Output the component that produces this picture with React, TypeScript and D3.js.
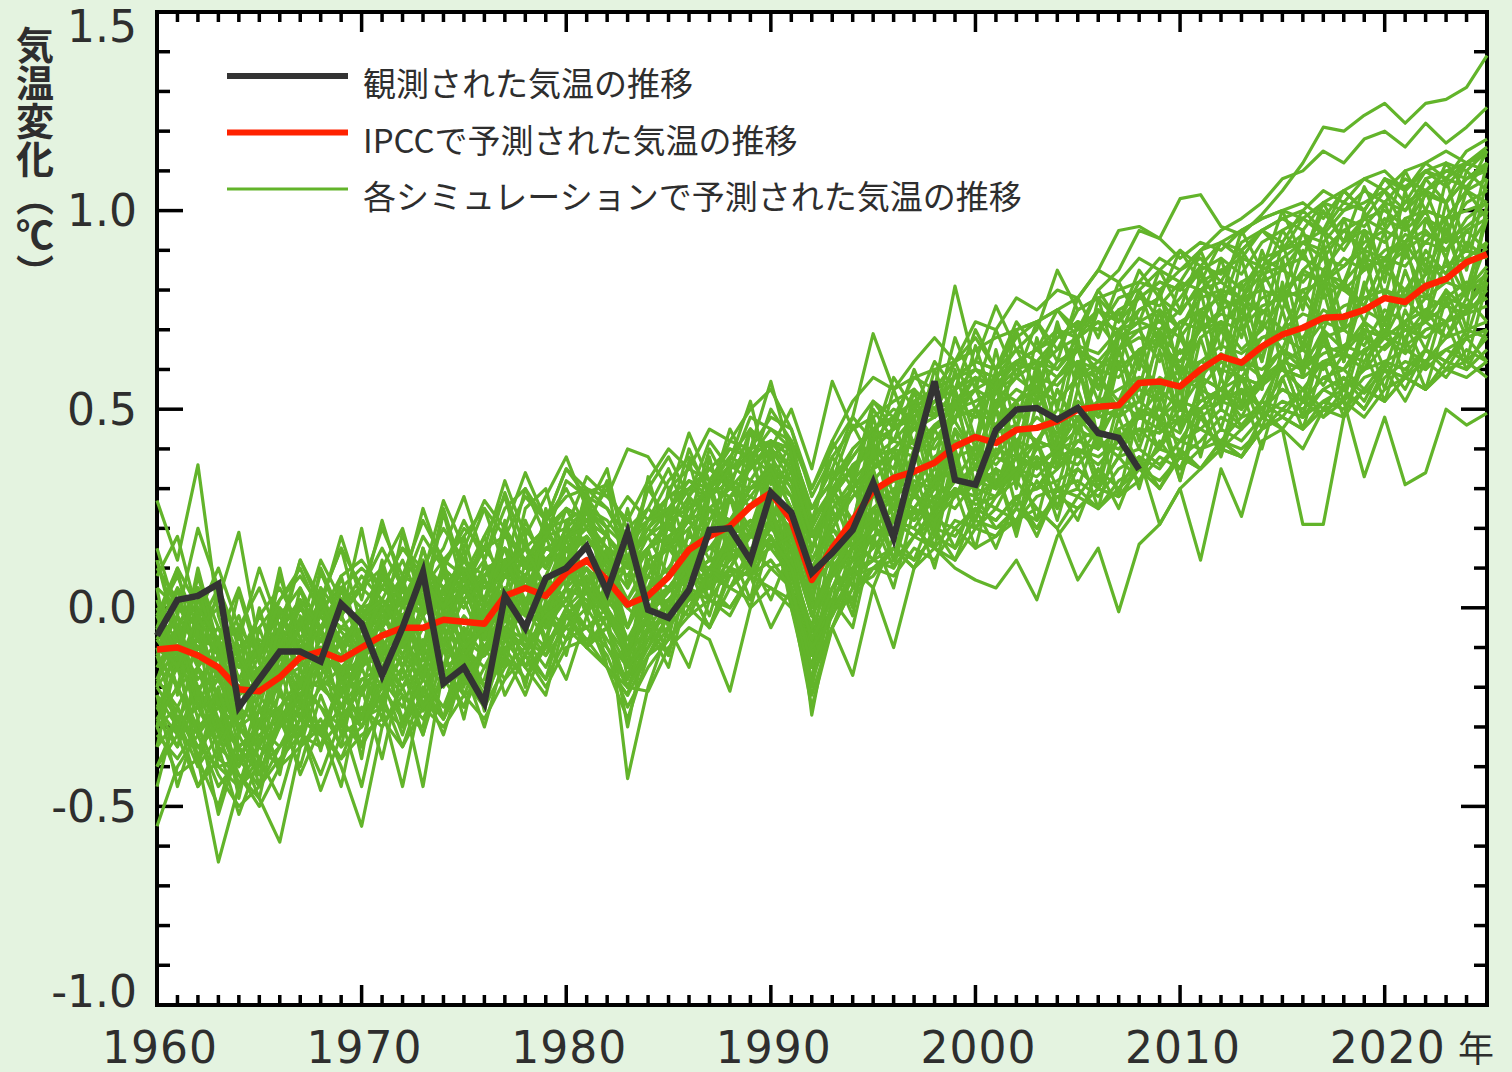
import React from "react";
import * as d3 from "d3";

// Global mean surface temperature change (°C), annual values 1960–2025
const firstYear = 1960;
const lastYear = 2025;

// Observed temperature, 1960–2008
const observed = [
  -0.07, 0.02, 0.03, 0.06, -0.25, -0.18, -0.11, -0.11, -0.135, 0.01, -0.04,
  -0.17, -0.05, 0.09, -0.19, -0.15, -0.24, 0.03, -0.05, 0.075, 0.10, 0.155,
  0.04, 0.19, -0.005, -0.025, 0.045, 0.196, 0.20, 0.12, 0.29, 0.24, 0.088,
  0.138, 0.196, 0.315, 0.176, 0.377, 0.57, 0.322, 0.31, 0.448, 0.499, 0.503, 0.474, 0.503, 0.44, 0.428, 0.348,
];

// IPCC multi-model mean, 1960–2025
const ipccMean = [
  -0.105, -0.10, -0.12, -0.15, -0.205, -0.21, -0.175, -0.125, -0.11, -0.13, -0.10,
  -0.07, -0.05, -0.05, -0.03, -0.035, -0.04, 0.03, 0.05, 0.03, 0.088, 0.12,
  0.07, 0.008, 0.03, 0.078, 0.146, 0.18, 0.205, 0.255, 0.29, 0.22, 0.07,
  0.15, 0.22, 0.295, 0.327, 0.343, 0.365, 0.406, 0.43, 0.415, 0.448, 0.453,
  0.47, 0.499, 0.506, 0.51, 0.566, 0.57, 0.557, 0.60, 0.633, 0.617, 0.658,
  0.688, 0.705, 0.73, 0.733, 0.75, 0.78, 0.77, 0.81, 0.828, 0.87, 0.89,
];

// Individual simulation runs, 1960–2025
const sim01 = [0.27,0.12,0.36,-0.02,-0.18,-0.25,-0.08,-0.15,0.02,-0.06,-0.12, -0.02,-0.10,0.06,0.01,0.10,-0.08,0.12,0.08,-0.02,0.05,0.18, 0.10,-0.05,0.12,0.15,0.08,0.22,0.28,0.20,0.35,0.25,0.02, 0.20,0.15,0.36,0.38,0.30,0.42,0.47,0.38,0.52,0.48,0.55, 0.42,0.60,0.58,0.52,0.64,0.70,0.58,0.68,0.72,0.65,0.70, 0.78,0.66,0.85,0.80,0.76,0.88,0.92,0.84,0.95,0.90,0.98];
const sim02 = [-0.30,-0.42,-0.38,-0.64,-0.45,-0.38,-0.30,-0.25,-0.32,-0.20,-0.28, -0.22,-0.15,-0.26,-0.18,-0.12,-0.22,-0.10,-0.08,-0.15,-0.02,0.04, -0.10,-0.18,-0.06,-0.02,0.05,0.02,0.10,0.08,0.16,0.12,-0.06, 0.02,0.10,0.12,0.22,0.18,0.24,0.30,0.26,0.28,0.35,0.30, 0.38,0.36,0.42,0.40,0.45,0.44,0.50,0.48,0.52,0.55,0.50, 0.58,0.62,0.56,0.64,0.60,0.66,0.70,0.68,0.72,0.74,0.76];
const sim03 = [-0.20,-0.28,-0.35,-0.30,-0.42,-0.48,-0.59,-0.35,-0.28,-0.40,-0.55, -0.30,-0.20,-0.32,-0.15,-0.25,-0.10,-0.18,-0.05,-0.12,0.00,-0.05, -0.02,-0.12,0.04,0.00,0.10,0.06,0.15,0.12,0.22,0.10,-0.08, 0.05,0.16,0.20,0.25,0.22,0.30,0.28,0.36,0.32,0.38,0.35, 0.40,0.45,0.42,0.38,0.50,0.47,0.44,0.55,0.52,0.58,0.56, 0.62,0.60,0.66,0.64,0.70,0.68,0.72,0.75,0.72,0.80,0.82];
const sim04 = [0.05,0.00,-0.05,0.02,0.19,-0.10,-0.02,0.05,-0.05,0.00,0.08, 0.02,0.12,0.00,0.10,0.05,0.15,0.08,0.20,0.12,0.18,0.25, 0.22,0.15,0.18,0.25,0.30,0.28,0.35,0.38,0.42,0.40,0.22, 0.30,0.35,0.42,0.45,0.50,0.48,0.55,0.58,0.56,0.62,0.60, 0.65,0.68,0.72,0.70,0.75,0.78,0.74,0.82,0.85,0.80,0.88, 0.90,0.94,0.92,0.98,0.96,1.02,1.00,1.05,1.08,1.06,1.12];
const sim05 = [-0.15,-0.05,-0.20,-0.18,-0.30,-0.26,-0.20,-0.08,-0.15,-0.22,-0.12, -0.10,-0.02,-0.12,-0.08,0.02,-0.10,0.00,0.08,-0.05,0.05,0.10, 0.00,-0.43,-0.20,-0.05,0.08,0.12,0.10,0.20,0.24,0.15,-0.27, 0.00,0.15,0.25,0.28,0.32,0.30,0.38,0.40,0.36,0.42,0.48, 0.44,0.52,0.48,0.50,0.58,0.55,0.60,0.58,0.64,0.60,0.68, 0.70,0.68,0.75,0.72,0.78,0.80,0.76,0.84,0.86,0.90,0.88];
const sim06 = [-0.05,-0.12,-0.08,-0.10,-0.15,-0.12,-0.05,-0.10,0.00,-0.08,-0.02, 0.05,0.00,0.08,0.02,0.10,0.05,0.12,0.15,0.10,0.20,0.25, 0.18,0.10,0.15,0.22,0.30,0.35,0.32,0.40,0.57,0.38,0.20, 0.30,0.38,0.45,0.50,0.48,0.55,0.81,0.60,0.58,0.62,0.65, 0.68,0.70,0.75,0.72,0.78,0.82,0.80,0.85,0.88,0.84,0.92, 0.95,0.98,0.94,1.00,1.02,1.05,1.00,1.08,1.10,1.12,1.15];
const sim07 = [-0.08,-0.15,-0.05,-0.12,-0.22,-0.18,-0.10,-0.05,-0.02,-0.10,0.00, 0.02,-0.05,0.05,0.08,0.02,0.10,0.12,0.08,0.18,0.15,0.20, 0.12,0.08,0.18,0.22,0.25,0.30,0.36,0.32,0.40,0.35,0.15, 0.28,0.35,0.42,0.48,0.52,0.55,0.58,0.62,0.60,0.68,0.72, 0.75,0.70,0.80,0.85,0.95,0.93,1.03,1.04,0.96,0.94,0.99, 1.05,1.12,1.21,1.20,1.24,1.27,1.22,1.27,1.28,1.31,1.39];
const sim08 = [-0.12,-0.20,-0.15,-0.22,-0.25,-0.30,-0.18,-0.15,-0.10,-0.18,-0.08, -0.05,-0.12,0.00,-0.05,0.05,0.00,0.08,0.12,0.05,0.15,0.18, 0.10,0.02,0.12,0.15,0.20,0.25,0.22,0.30,0.36,0.28,0.12, 0.20,0.30,0.35,0.40,0.45,0.48,0.52,0.55,0.58,0.62,0.60, 0.68,0.72,0.70,0.78,0.80,0.85,0.82,0.90,0.95,0.98,1.02, 1.08,1.10,1.15,1.12,1.18,1.20,1.16,1.22,1.17,1.21,1.26];
const sim09 = [-0.18,-0.10,-0.22,-0.28,-0.35,-0.30,-0.25,-0.18,-0.20,-0.15,-0.22, -0.12,-0.08,-0.15,-0.05,-0.10,-0.02,0.05,0.00,0.08,0.02,0.12, 0.05,-0.08,0.00,0.05,0.12,0.10,0.18,0.22,0.20,0.25,0.05, 0.12,0.18,0.25,0.30,0.28,0.35,0.32,0.40,0.38,0.45,0.42, 0.48,0.45,0.52,0.50,0.55,0.52,0.58,0.55,0.62,0.58,0.50, 0.45,0.21,0.21,0.48,0.62,0.70,0.68,0.75,0.78,0.82,0.80];
const sim10 = [-0.35,-0.28,-0.40,-0.32,-0.45,-0.40,-0.35,-0.28,-0.32,-0.38,-0.25, -0.30,-0.22,-0.28,-0.18,-0.25,-0.15,-0.10,-0.18,-0.08,-0.05,0.00, -0.08,-0.15,-0.10,0.02,-0.02,0.08,0.05,0.12,0.15,0.08,-0.10, 0.00,0.08,0.12,0.15,0.10,0.20,0.18,0.25,0.22,0.28,0.20, 0.30,0.28,0.35,0.30,0.38,0.21,0.30,0.12,0.35,0.23,0.42, 0.45,0.40,0.50,0.48,0.55,0.52,0.58,0.55,0.62,0.60,0.65];
const sim11 = [-0.22,-0.30,-0.25,-0.35,-0.40,-0.32,-0.28,-0.20,-0.25,-0.30,-0.18, -0.15,-0.20,-0.10,-0.18,-0.08,-0.12,-0.05,0.00,-0.08,0.05,0.02, -0.05,-0.12,-0.02,0.04,0.08,0.12,0.10,0.18,0.22,0.15,-0.02, 0.08,0.15,0.20,0.18,0.25,0.22,0.30,0.28,0.32,0.35,0.30, 0.38,0.40,0.36,0.42,0.45,0.40,0.48,0.45,0.50,0.46,0.52, 0.50,0.55,0.48,0.52,0.33,0.48,0.31,0.34,0.50,0.46,0.49];
const sim12 = [0.12,-0.08,0.05,-0.18,0.04,-0.14,0.10,-0.12,0.09,-0.03,0.20, -0.05,0.19,-0.01,0.24,0.04,0.18,0.03,0.25,0.30,0.11,0.29, 0.31,0.05,0.33,0.15,0.37,0.18,0.37,0.52,0.31,0.42,0.14, 0.32,0.46,0.36,0.55,0.41,0.60,0.47,0.66,0.50,0.70,0.52, 0.72,0.55,0.78,0.60,0.80,0.66,0.82,0.70,0.88,0.72,0.90, 0.78,0.95,0.80,0.98,0.85,1.02,0.88,1.05,0.92,1.10,1.05];
const sim13 = [-0.35,-0.12,-0.40,-0.22,-0.48,-0.25,-0.42,-0.18,-0.36,-0.15,-0.38, -0.08,-0.30,-0.12,-0.28,-0.05,-0.26,-0.02,-0.20,0.02,-0.12,0.08, -0.15,-0.22,0.00,-0.12,0.10,-0.02,0.15,0.02,0.25,0.00,-0.18, 0.10,-0.02,0.25,0.12,0.30,0.15,0.38,0.22,0.35,0.20,0.42, 0.25,0.45,0.30,0.48,0.35,0.52,0.32,0.55,0.40,0.58,0.45, 0.62,0.48,0.68,0.52,0.70,0.55,0.72,0.60,0.78,0.62,0.82];
const sim14 = [-0.02,-0.08,0.02,-0.10,-0.12,-0.18,-0.05,0.00,-0.06,0.02,-0.04, 0.05,0.02,0.10,0.05,0.12,0.08,0.15,0.10,0.18,0.20,0.15, 0.18,0.12,0.20,0.25,0.22,0.30,0.35,0.38,0.34,0.32,0.18, 0.28,0.36,0.40,0.45,0.50,0.55,0.58,0.62,0.76,0.65,0.70, 0.85,0.75,0.78,0.80,0.82,0.88,0.85,0.90,0.92,0.95,0.98, 1.00,0.98,1.02,1.05,1.00,1.08,1.06,1.10,1.12,1.10,1.15];
const sim15 = [-0.30,-0.25,-0.35,-0.40,-0.38,-0.45,-0.35,-0.30,-0.46,-0.32,-0.28, -0.25,-0.45,-0.20,-0.28,-0.15,-0.22,-0.12,-0.18,-0.10,-0.02,-0.08, -0.05,-0.20,-0.08,-0.05,0.02,0.08,0.05,0.10,0.18,0.05,-0.15, 0.05,0.10,0.18,0.22,0.20,0.28,0.25,0.32,0.30,0.35,0.38, 0.35,0.42,0.40,0.45,0.48,0.50,0.46,0.52,0.55,0.50,0.58, 0.60,0.58,0.62,0.60,0.65,0.68,0.64,0.70,0.72,0.75,0.78];
const sim16 = [-0.25,-0.32,-0.20,-0.30,-0.35,-0.42,-0.28,-0.22,-0.18,-0.28,-0.20, -0.15,-0.22,-0.45,-0.15,-0.22,-0.10,-0.05,-0.12,0.00,-0.08,0.05, 0.00,-0.10,-0.02,0.05,0.00,0.10,0.15,0.12,0.20,0.18,-0.02, 0.10,0.12,0.20,0.25,0.22,0.28,0.32,0.30,0.35,0.32,0.40, 0.42,0.38,0.45,0.42,0.50,0.48,0.52,0.50,0.55,0.58,0.56, 0.62,0.65,0.60,0.66,0.70,0.68,0.72,0.75,0.78,0.76,0.82];
const sim17 = [0.10,0.02,-0.05,0.05,-0.10,-0.05,0.02,0.08,0.00,0.05,0.10, 0.05,0.15,0.08,0.27,0.15,0.27,0.20,0.34,0.22,0.28,0.30, 0.25,0.18,0.22,0.28,0.32,0.30,0.38,0.35,0.42,0.38,0.25, 0.32,0.38,0.45,0.42,0.48,0.52,0.50,0.58,0.55,0.60,0.62, 0.60,0.66,0.64,0.70,0.72,0.75,0.70,0.78,0.80,0.78,0.84, 0.86,0.88,0.85,0.92,0.95,0.92,0.98,1.00,0.98,1.05,1.08];
const sim18 = [-0.05,0.05,-0.02,-0.08,-0.05,-0.12,0.00,-0.05,0.05,-0.02,0.05, 0.10,0.02,0.08,0.15,0.28,0.12,0.29,0.15,0.20,0.25,0.22, 0.30,0.20,0.25,0.20,0.28,0.35,0.30,0.36,0.40,0.35,0.18, 0.25,0.32,0.38,0.42,0.40,0.46,0.50,0.48,0.55,0.52,0.58, 0.56,0.62,0.60,0.65,0.68,0.66,0.72,0.70,0.75,0.78,0.74, 0.80,0.84,0.82,0.86,0.90,0.88,0.94,0.92,0.98,1.00,1.02];
const sim19 = [-0.15,-0.08,-0.18,-0.12,-0.20,-0.15,-0.08,-0.12,-0.02,-0.10,-0.05, 0.00,-0.05,0.05,0.00,0.08,0.02,0.12,0.15,0.10,0.20,0.33, 0.28,0.40,0.38,0.30,0.35,0.32,0.40,0.38,0.42,0.40,0.25, 0.32,0.40,0.45,0.48,0.45,0.52,0.50,0.55,0.52,0.58,0.62, 0.58,0.65,0.62,0.68,0.70,0.72,0.68,0.75,0.78,0.75,0.82, 0.85,0.82,0.88,0.86,0.92,0.95,0.92,0.98,0.95,1.02,1.05];
const sim20 = [-0.10,-0.15,-0.05,-0.18,-0.22,-0.12,-0.15,-0.05,-0.08,-0.12,-0.02, -0.05,0.02,-0.02,0.05,0.00,0.08,0.10,0.05,0.15,0.18,0.22, 0.15,0.10,0.20,0.28,0.44,0.32,0.38,0.45,0.40,0.50,0.35, 0.57,0.45,0.48,0.52,0.55,0.50,0.58,0.62,0.60,0.65,0.62, 0.68,0.72,0.70,0.75,0.78,0.76,0.82,0.80,0.85,0.88,0.86, 0.90,0.92,0.95,0.90,0.98,1.00,0.96,1.04,1.02,1.08,1.10];
const sim21 = [-0.28,-0.20,-0.30,-0.25,-0.35,-0.30,-0.22,-0.28,-0.20,-0.25,-0.18, -0.20,-0.12,-0.18,-0.10,-0.15,-0.12,-0.05,-0.08,-0.12,-0.05,-0.10, -0.15,-0.20,-0.21,-0.10,-0.05,-0.08,-0.21,0.00,0.05,0.02,-0.25, -0.05,0.08,0.10,0.15,0.12,0.18,0.15,0.22,0.20,0.25,0.22, 0.28,0.30,0.25,0.32,0.35,0.30,0.38,0.35,0.40,0.38,0.45, 0.48,0.45,0.50,0.52,0.48,0.55,0.58,0.55,0.60,0.62,0.58];
const sim22 = [-0.18,-0.25,-0.15,-0.22,-0.30,-0.35,-0.25,-0.20,-0.15,-0.22,-0.15, -0.10,-0.18,-0.08,-0.15,-0.05,-0.12,0.00,-0.05,-0.10,0.00,0.05, -0.02,-0.08,0.00,0.02,0.08,0.05,0.10,0.08,-0.05,0.05,-0.15, -0.05,-0.17,0.05,-0.10,0.10,0.15,0.12,0.20,0.18,0.22,0.25, 0.20,0.28,0.25,0.30,0.35,0.32,0.38,0.35,0.42,0.40,0.45, 0.50,0.48,0.52,0.55,0.50,0.58,0.62,0.60,0.65,0.68,0.70];
const sim23 = [-0.20,-0.12,-0.25,-0.18,-0.28,-0.22,-0.15,-0.20,-0.10,-0.18,-0.12, -0.08,-0.15,-0.05,-0.10,-0.02,-0.08,0.02,-0.02,0.05,0.08,0.05, 0.02,-0.05,0.05,0.08,0.10,0.15,0.12,0.18,0.20,0.15,0.00, 0.10,0.15,0.18,0.22,0.20,0.15,0.10,0.07,0.05,0.12,0.02, 0.18,0.25,0.30,0.28,0.35,0.40,0.38,0.42,0.48,0.45,0.50, 0.55,0.52,0.58,0.60,0.55,0.62,0.65,0.62,0.68,0.70,0.72];
const sim24 = [-0.12,-0.20,-0.10,-0.15,-0.25,-0.20,-0.12,-0.18,-0.08,-0.15,-0.10, -0.12,-0.05,-0.10,-0.02,-0.08,0.00,0.05,0.02,-0.02,0.08,0.10, 0.05,0.00,0.08,0.05,0.12,0.15,0.20,0.18,0.25,0.20,0.05, 0.12,0.20,0.25,0.22,0.28,0.25,0.32,0.30,0.28,0.32,0.25, 0.20,0.07,0.15,-0.01,0.16,0.21,0.30,0.35,0.40,0.38,0.45, 0.50,0.48,0.55,0.52,0.58,0.60,0.58,0.65,0.62,0.70,0.68];
const sim25 = [-0.02,-0.10,0.00,-0.08,-0.15,-0.10,-0.05,0.02,-0.05,0.00,0.05, 0.00,0.08,0.05,0.12,0.08,0.15,0.18,0.12,0.20,0.22,0.25, 0.20,0.15,0.22,0.28,0.30,0.35,0.40,0.38,0.45,0.42,0.30, 0.40,0.48,0.69,0.55,0.58,0.60,0.62,0.65,0.68,0.70,0.72, 0.75,0.78,0.85,0.95,0.96,0.93,0.88,0.92,0.90,0.95,0.98, 1.00,1.02,0.98,1.05,1.08,1.05,1.10,1.12,1.08,1.15,1.18];
const sim26 = [-0.05,0.10,-0.15,0.05,-0.28,-0.05,-0.20,0.02,-0.18,0.05,-0.12, 0.10,-0.10,0.12,-0.05,0.15,-0.08,0.20,0.00,0.22,0.05,0.28, 0.02,0.18,-0.05,0.25,0.08,0.32,0.15,0.40,0.20,0.38,0.00, 0.30,0.18,0.45,0.28,0.52,0.30,0.55,0.40,0.60,0.38,0.62, 0.45,0.68,0.42,0.70,0.55,0.75,0.50,0.80,0.58,0.82,0.62, 0.88,0.65,0.92,0.70,0.95,0.78,0.98,0.80,1.02,0.85,1.08];
const sim27 = [-0.55,-0.40,-0.32,-0.45,-0.38,-0.30,-0.35,-0.25,-0.30,-0.22,-0.28, -0.18,-0.25,-0.12,-0.20,-0.10,-0.15,-0.05,-0.12,0.00,-0.05,0.05, 0.00,-0.12,-0.05,0.02,0.08,0.05,0.12,0.18,0.15,0.20,0.00, 0.08,0.18,0.22,0.28,0.25,0.32,0.35,0.30,0.38,0.35,0.42, 0.40,0.45,0.50,0.48,0.52,0.58,0.55,0.62,0.60,0.58,0.65, 0.68,0.65,0.72,0.70,0.75,0.72,0.80,0.78,0.82,0.80,0.86];
const sim28 = [0.00,-0.05,0.05,-0.10,-0.18,-0.08,-0.12,0.00,-0.08,-0.02,-0.12, 0.02,-0.02,0.05,-0.05,0.08,0.05,0.12,0.08,0.15,0.12,0.18, 0.12,0.08,0.15,0.18,0.22,0.25,0.22,0.30,0.32,0.28,0.12, 0.22,0.28,0.32,0.38,0.42,0.45,0.48,0.50,0.46,0.52,0.55, 0.52,0.58,0.62,0.60,0.65,0.68,0.64,0.70,0.74,0.72,0.78, 0.80,0.78,0.84,0.82,0.88,0.86,0.90,0.94,0.92,0.96,1.00];
const sim29 = [-0.30,-0.05,-0.25,-0.35,-0.10,-0.40,-0.15,-0.32,-0.05,-0.28,-0.08, -0.25,0.02,-0.18,0.05,-0.20,0.08,-0.12,0.12,-0.10,0.18,-0.02, 0.15,-0.15,0.12,-0.05,0.20,0.05,0.28,0.10,0.35,0.05,-0.10, 0.18,0.05,0.35,0.18,0.40,0.22,0.45,0.28,0.50,0.30,0.52, 0.35,0.55,0.40,0.62,0.42,0.65,0.45,0.68,0.52,0.72,0.55, 0.75,0.58,0.80,0.62,0.82,0.68,0.85,0.72,0.88,0.78,0.92];
const sim30 = [0.08,0.18,-0.02,0.10,-0.05,0.05,-0.08,0.12,0.02,0.15,0.05, 0.20,0.08,0.22,0.12,0.18,0.25,0.10,0.30,0.22,0.35,0.28, 0.25,0.15,0.30,0.38,0.28,0.42,0.35,0.48,0.45,0.40,0.25, 0.35,0.48,0.42,0.58,0.50,0.62,0.55,0.70,0.60,0.72,0.65, 0.75,0.68,0.80,0.72,0.85,0.78,0.90,0.82,0.92,0.88,0.95, 0.92,1.00,0.95,1.05,1.00,1.08,1.02,1.10,1.08,1.12,1.14];
const sim31 = [-0.32,-0.38,-0.30,-0.42,-0.50,-0.45,-0.38,-0.32,-0.35,-0.28,-0.35, -0.25,-0.30,-0.22,-0.28,-0.18,-0.25,-0.15,-0.10,-0.18,-0.08,-0.05, -0.12,-0.25,-0.15,-0.08,-0.02,0.02,0.00,0.08,0.12,0.05,-0.18, -0.05,0.05,0.10,0.12,0.18,0.15,0.22,0.20,0.25,0.22,0.28, 0.30,0.32,0.28,0.35,0.38,0.35,0.42,0.40,0.45,0.42,0.48, 0.52,0.50,0.55,0.58,0.54,0.60,0.58,0.62,0.65,0.62,0.68];
const sim32 = [-0.40,-0.28,-0.45,-0.35,-0.52,-0.38,-0.48,-0.30,-0.42,-0.28,-0.45, -0.22,-0.35,-0.20,-0.32,-0.15,-0.30,-0.12,-0.22,-0.08,-0.18,-0.02, -0.15,-0.28,-0.12,-0.05,-0.15,0.02,-0.02,0.08,0.05,0.00,-0.22, -0.05,0.05,0.08,0.15,0.10,0.20,0.12,0.25,0.15,0.28,0.18, 0.30,0.22,0.35,0.25,0.38,0.30,0.40,0.35,0.42,0.38,0.48, 0.45,0.52,0.48,0.55,0.50,0.60,0.52,0.62,0.58,0.65,0.62];
const sim33 = [-0.08,-0.02,-0.10,-0.05,-0.12,-0.20,-0.10,-0.05,0.00,-0.05,-0.08, 0.00,0.05,-0.02,0.08,0.02,0.10,0.08,0.15,0.12,0.18,0.20, 0.15,0.12,0.20,0.15,0.25,0.28,0.32,0.30,0.35,0.32,0.15, 0.25,0.30,0.38,0.40,0.45,0.42,0.50,0.52,0.55,0.58,0.54, 0.62,0.65,0.60,0.68,0.72,0.70,0.75,0.80,0.78,0.82,0.85, 0.88,0.92,0.90,0.95,0.98,0.95,1.02,1.05,1.02,1.08,1.12];
const sim34 = [-0.20,0.05,-0.15,-0.32,-0.05,-0.35,-0.12,-0.25,0.02,-0.22,-0.05, -0.18,0.08,-0.12,0.10,-0.15,0.12,-0.08,0.18,-0.05,0.22,0.05, 0.15,-0.15,0.15,-0.02,0.28,0.05,0.35,0.12,0.40,0.10,-0.05, 0.25,0.08,0.42,0.22,0.48,0.25,0.55,0.30,0.58,0.32,0.60, 0.38,0.62,0.40,0.65,0.48,0.70,0.45,0.75,0.50,0.78,0.55, 0.82,0.60,0.85,0.62,0.90,0.68,0.92,0.72,0.98,0.78,1.00];
const sim35 = [0.02,-0.15,0.10,-0.10,-0.22,0.00,-0.18,0.05,-0.12,0.08,-0.10, 0.12,-0.05,0.15,-0.02,0.18,0.00,0.22,-0.02,0.25,0.10,0.30, 0.05,0.25,0.02,0.30,0.12,0.38,0.18,0.45,0.25,0.40,0.05, 0.35,0.20,0.48,0.32,0.55,0.35,0.60,0.42,0.65,0.45,0.68, 0.50,0.72,0.55,0.75,0.60,0.80,0.58,0.85,0.65,0.88,0.70, 0.92,0.75,0.95,0.80,1.00,0.82,1.05,0.85,1.08,0.90,1.12];
const sim36 = [-0.12,-0.05,-0.15,-0.08,-0.18,-0.22,-0.12,-0.08,-0.15,-0.05,0.00, -0.05,0.05,0.00,0.08,0.05,0.02,0.15,0.10,0.12,0.18,0.22, 0.18,0.10,0.15,0.22,0.25,0.30,0.28,0.35,0.40,0.32,0.18, 0.28,0.35,0.40,0.45,0.48,0.52,0.55,0.60,0.58,0.62,0.65, 0.70,0.68,0.75,0.72,0.78,0.82,0.80,0.86,0.84,0.90,0.95, 0.98,1.00,1.05,1.02,1.08,1.10,1.05,1.12,1.15,1.12,1.16];
const sim37 = [-0.10,-0.32,-0.05,-0.38,-0.25,-0.45,-0.20,-0.35,-0.10,-0.32,-0.15, -0.28,-0.02,-0.25,-0.05,-0.18,0.00,-0.15,0.08,-0.08,0.12,-0.02, 0.10,-0.18,0.05,-0.08,0.15,0.02,0.22,0.08,0.28,0.02,-0.15, 0.12,0.00,0.30,0.12,0.35,0.18,0.40,0.22,0.45,0.25,0.42, 0.30,0.48,0.32,0.52,0.40,0.55,0.38,0.58,0.45,0.62,0.48, 0.65,0.52,0.70,0.55,0.72,0.60,0.75,0.65,0.80,0.68,0.84];
const sim38 = [0.15,-0.02,0.20,0.05,-0.08,0.10,-0.05,0.12,0.00,0.18,0.02, 0.22,0.05,0.25,0.10,0.20,0.15,0.32,0.18,0.28,0.38,0.25, 0.35,0.12,0.30,0.22,0.40,0.28,0.45,0.35,0.50,0.42,0.20, 0.42,0.32,0.52,0.45,0.60,0.48,0.68,0.55,0.70,0.58,0.72, 0.62,0.78,0.68,0.82,0.72,0.85,0.75,0.90,0.78,0.95,0.85, 1.00,0.88,1.02,0.92,1.06,0.96,1.10,1.00,1.12,1.05,1.15];
const sim39 = [-0.40,-0.32,-0.45,-0.38,-0.42,-0.50,-0.40,-0.35,-0.30,-0.38,-0.32, -0.28,-0.35,-0.25,-0.30,-0.22,-0.28,-0.18,-0.12,-0.20,-0.10,-0.08, -0.15,-0.22,-0.12,-0.08,0.00,-0.05,0.05,0.02,0.10,0.05,-0.12, -0.02,0.08,0.12,0.10,0.18,0.22,0.20,0.25,0.22,0.28,0.30, 0.32,0.35,0.30,0.38,0.40,0.36,0.42,0.45,0.42,0.48,0.50, 0.55,0.52,0.58,0.55,0.60,0.62,0.60,0.65,0.62,0.68,0.70];
const sim40 = [-0.22,-0.45,-0.28,-0.52,-0.35,-0.48,-0.25,-0.42,-0.30,-0.45,-0.20, -0.38,-0.15,-0.32,-0.10,-0.28,-0.05,-0.22,-0.12,-0.18,0.00,-0.10, -0.02,-0.30,-0.05,-0.15,0.05,-0.05,0.10,0.00,0.18,0.05,-0.20, 0.02,-0.05,0.18,0.05,0.25,0.10,0.30,0.15,0.35,0.18,0.38, 0.22,0.40,0.25,0.45,0.30,0.48,0.32,0.50,0.38,0.55,0.40, 0.58,0.45,0.62,0.48,0.65,0.52,0.68,0.55,0.72,0.60,0.70];
const sim41 = [0.05,-0.22,-0.02,-0.30,-0.12,-0.35,-0.05,-0.25,0.05,-0.10,-0.28, -0.05,0.08,-0.18,0.12,-0.15,0.02,0.10,-0.08,0.20,0.12,0.00, 0.20,-0.12,0.05,0.18,0.02,0.28,0.35,0.10,0.42,0.08,0.20, 0.00,0.35,0.15,0.48,0.30,0.20,0.52,0.58,0.30,0.45,0.60, 0.35,0.62,0.40,0.68,0.72,0.45,0.70,0.55,0.78,0.50,0.82, 0.60,0.85,0.90,0.62,0.80,0.95,0.65,0.98,0.88,0.70,1.02];
const sim42 = [-0.30,-0.12,-0.38,-0.20,-0.45,-0.28,-0.40,-0.15,-0.32,-0.18,-0.35, -0.12,-0.28,-0.30,-0.05,-0.22,-0.18,0.00,-0.15,-0.02,0.05,-0.10, 0.08,-0.15,-0.05,-0.12,0.10,0.02,0.18,0.08,0.22,0.05,-0.12, 0.10,0.02,0.22,0.10,0.30,0.18,0.35,0.20,0.28,0.38,0.22, 0.42,0.30,0.45,0.28,0.50,0.40,0.55,0.38,0.58,0.45,0.52, 0.62,0.48,0.70,0.55,0.60,0.72,0.58,0.75,0.68,0.78,0.72];
const sim43 = [-0.02,-0.15,0.08,-0.10,-0.05,-0.22,0.00,-0.12,0.10,-0.02,-0.15, 0.08,-0.05,0.15,0.00,0.05,0.12,-0.02,0.22,0.10,0.25,0.15, 0.05,0.12,0.18,0.08,0.28,0.22,0.32,0.25,0.38,0.30,0.15, 0.30,0.22,0.40,0.35,0.50,0.42,0.48,0.55,0.45,0.62,0.50, 0.58,0.65,0.52,0.70,0.62,0.75,0.60,0.72,0.80,0.68,0.85, 0.75,0.90,0.78,0.82,0.95,0.85,0.92,1.00,0.88,1.05,0.98];
const sim44 = [-0.45,-0.25,-0.38,-0.50,-0.32,-0.42,-0.28,-0.40,-0.22,-0.35,-0.30, -0.18,-0.32,-0.15,-0.28,-0.10,-0.25,-0.08,-0.15,-0.22,-0.02,-0.10, -0.05,-0.20,-0.10,-0.02,0.05,-0.05,0.08,0.12,0.02,0.15,-0.10, -0.02,0.10,0.05,0.18,0.12,0.25,0.15,0.28,0.20,0.22,0.32, 0.25,0.35,0.30,0.38,0.32,0.42,0.35,0.48,0.40,0.45,0.52, 0.48,0.55,0.50,0.58,0.52,0.62,0.55,0.65,0.60,0.68,0.62];
const sim45 = [0.12,-0.05,0.05,-0.12,-0.02,-0.18,0.08,-0.08,0.02,0.15,-0.05, 0.10,0.20,0.02,0.25,0.08,0.18,0.28,0.10,0.22,0.30,0.20, 0.32,0.15,0.25,0.35,0.22,0.40,0.30,0.45,0.38,0.42,0.22, 0.38,0.30,0.50,0.42,0.55,0.48,0.62,0.50,0.58,0.65,0.55, 0.70,0.60,0.75,0.68,0.80,0.72,0.78,0.85,0.75,0.90,0.82, 0.95,0.88,1.00,0.92,0.98,1.05,0.95,1.08,1.02,1.12,1.10];
const sim46 = [-0.18,-0.05,-0.25,-0.12,-0.32,-0.15,-0.28,-0.02,-0.20,-0.08,-0.22, 0.00,-0.12,-0.02,-0.15,0.05,-0.08,0.12,0.00,-0.05,0.15,0.05, 0.15,0.00,-0.05,0.15,0.22,0.12,0.28,0.18,0.35,0.15,0.02, 0.20,0.12,0.32,0.25,0.40,0.30,0.45,0.38,0.50,0.42,0.40, 0.55,0.45,0.60,0.48,0.62,0.55,0.65,0.58,0.70,0.60,0.72, 0.65,0.78,0.70,0.82,0.72,0.85,0.80,0.88,0.82,0.92,0.88];
const sim47 = [-0.25,-0.35,-0.15,-0.28,-0.40,-0.22,-0.30,-0.18,-0.25,-0.35,-0.12, -0.20,-0.08,-0.22,-0.02,-0.15,-0.12,0.02,-0.10,0.05,0.00,0.10, -0.02,-0.10,0.05,0.00,0.12,0.08,0.15,0.22,0.18,0.10,-0.05, 0.08,0.18,0.12,0.28,0.22,0.32,0.28,0.38,0.30,0.42,0.35, 0.40,0.48,0.42,0.52,0.48,0.55,0.50,0.58,0.55,0.62,0.58, 0.65,0.60,0.70,0.65,0.72,0.68,0.78,0.72,0.80,0.75,0.85];
const sim48 = [-0.02,0.08,-0.05,0.00,-0.12,-0.02,0.05,-0.05,0.12,0.02,0.05, 0.15,0.05,0.18,0.10,0.22,0.12,0.25,0.30,0.18,0.32,0.28, 0.20,0.28,0.22,0.32,0.38,0.30,0.42,0.40,0.48,0.45,0.28, 0.38,0.45,0.52,0.48,0.58,0.55,0.62,0.68,0.60,0.70,0.72, 0.65,0.75,0.78,0.72,0.82,0.80,0.85,0.88,0.82,0.92,0.95, 0.90,0.98,0.95,1.02,1.00,1.08,1.05,1.10,1.06,1.12,1.15];
const sim49 = [-0.12,-0.28,-0.20,-0.35,-0.25,-0.42,-0.30,-0.22,-0.35,-0.18,-0.30, -0.22,-0.12,-0.25,-0.18,-0.08,-0.20,-0.05,-0.12,-0.02,-0.08,0.05, -0.05,-0.15,-0.08,0.02,-0.02,0.10,0.05,0.15,0.10,0.12,-0.08, 0.05,0.10,0.15,0.22,0.18,0.25,0.30,0.28,0.25,0.35,0.30, 0.35,0.40,0.38,0.42,0.48,0.45,0.42,0.50,0.55,0.48,0.58, 0.60,0.55,0.62,0.60,0.68,0.65,0.70,0.72,0.68,0.75,0.78];
const sim50 = [-0.08,0.02,-0.12,-0.05,-0.18,-0.10,-0.02,-0.12,-0.05,0.05,-0.08, 0.02,-0.05,0.10,0.05,0.00,0.08,0.15,0.05,0.12,0.18,0.22, 0.12,0.05,0.15,0.20,0.15,0.25,0.30,0.28,0.35,0.25,0.12, 0.22,0.30,0.35,0.40,0.38,0.45,0.52,0.48,0.50,0.55,0.52, 0.58,0.62,0.55,0.65,0.70,0.62,0.72,0.75,0.70,0.78,0.80, 0.78,0.85,0.82,0.88,0.85,0.90,0.92,0.95,0.90,0.98,1.02];
const sim51 = [-0.05,-0.20,0.00,-0.25,-0.12,-0.30,-0.08,-0.20,0.05,-0.18,0.00, -0.12,0.05,-0.10,0.12,-0.08,0.08,0.15,-0.02,0.18,0.05,0.25, 0.00,0.12,-0.05,0.22,0.10,0.30,0.12,0.38,0.22,0.35,0.02, 0.28,0.15,0.40,0.25,0.48,0.32,0.52,0.35,0.55,0.40,0.58, 0.42,0.60,0.48,0.65,0.52,0.68,0.55,0.72,0.58,0.75,0.62, 0.80,0.65,0.82,0.70,0.88,0.72,0.90,0.78,0.95,0.80,0.98];
const sim52 = [-0.02,0.10,0.00,-0.08,0.05,-0.12,0.02,0.10,-0.02,0.08,0.12, 0.05,0.15,0.10,0.20,0.12,0.25,0.18,0.28,0.22,0.35,0.30, 0.28,0.22,0.32,0.40,0.35,0.45,0.42,0.50,0.55,0.45,0.30, 0.42,0.52,0.58,0.55,0.62,0.68,0.62,0.72,0.70,0.78,0.75, 0.80,0.78,0.85,0.82,0.88,0.85,0.90,0.86,0.92,0.90,0.95, 0.98,0.95,1.02,1.00,1.05,1.02,1.08,1.05,1.10,1.08,1.12];
const sim53 = [-0.28,-0.20,-0.32,-0.25,-0.30,-0.38,-0.28,-0.22,-0.18,-0.28,-0.20, -0.15,-0.20,-0.10,-0.15,-0.12,-0.05,-0.08,0.00,-0.05,0.02,0.08, 0.00,-0.08,-0.02,0.05,0.08,0.12,0.15,0.18,0.20,0.15,-0.02, 0.08,0.15,0.20,0.25,0.28,0.25,0.32,0.35,0.30,0.38,0.36, 0.40,0.42,0.45,0.42,0.48,0.50,0.46,0.52,0.55,0.52,0.58, 0.62,0.60,0.64,0.66,0.64,0.70,0.68,0.72,0.76,0.74,0.80];
const sim54 = [-0.28,-0.35,-0.22,-0.40,-0.45,-0.35,-0.40,-0.28,-0.32,-0.25,-0.30, -0.20,-0.28,-0.18,-0.25,-0.12,-0.20,-0.08,-0.15,-0.10,-0.02,-0.05, -0.10,-0.20,-0.12,-0.02,0.02,0.05,0.00,0.08,0.12,0.05,-0.15, 0.00,0.02,0.10,0.08,0.15,0.12,0.20,0.15,0.18,0.25,0.20, 0.28,0.25,0.30,0.28,0.32,0.38,0.35,0.40,0.42,0.38,0.45, 0.48,0.45,0.52,0.50,0.55,0.52,0.58,0.55,0.60,0.58,0.62];
const sim55 = [-0.12,-0.02,-0.22,-0.08,-0.30,-0.20,-0.10,-0.28,-0.05,-0.18,-0.15, 0.00,-0.15,0.02,-0.10,0.08,-0.12,0.12,0.02,0.08,0.20,0.05, 0.12,-0.05,0.08,0.18,0.08,0.25,0.15,0.32,0.30,0.18,0.08, 0.22,0.30,0.20,0.40,0.28,0.45,0.35,0.50,0.38,0.52,0.40, 0.55,0.45,0.58,0.50,0.65,0.52,0.68,0.58,0.72,0.60,0.75, 0.70,0.80,0.72,0.82,0.76,0.88,0.78,0.90,0.84,0.95,0.90];
const sim56 = [0.00,-0.12,0.08,-0.05,-0.15,-0.02,-0.10,0.02,-0.05,0.05,0.00, 0.08,0.02,0.12,0.05,0.10,0.02,0.20,0.12,0.18,0.25,0.22, 0.18,0.10,0.22,0.25,0.32,0.28,0.35,0.40,0.42,0.35,0.18, 0.28,0.40,0.45,0.48,0.52,0.50,0.58,0.60,0.55,0.62,0.65, 0.60,0.68,0.72,0.65,0.75,0.78,0.70,0.80,0.82,0.78,0.88, 0.85,0.92,0.88,0.95,0.90,0.98,0.95,1.00,0.98,1.05,1.02];
const sim57 = [-0.18,-0.10,-0.28,-0.15,-0.35,-0.30,-0.15,-0.22,-0.10,-0.25,-0.12, -0.15,-0.05,-0.18,0.00,-0.10,-0.05,0.05,-0.02,0.00,0.10,0.05, -0.02,-0.08,0.02,0.05,0.12,0.08,0.18,0.22,0.15,0.18,-0.02, 0.10,0.18,0.22,0.28,0.25,0.32,0.35,0.30,0.40,0.38,0.42, 0.40,0.48,0.45,0.50,0.52,0.48,0.55,0.58,0.55,0.62,0.60, 0.65,0.62,0.68,0.70,0.66,0.75,0.72,0.78,0.76,0.80,0.84];
const sim58 = [-0.05,-0.15,-0.08,-0.18,-0.12,-0.22,-0.05,-0.15,0.02,-0.10,-0.02, 0.02,-0.08,0.08,0.00,0.12,0.02,0.10,0.15,0.05,0.18,0.20, 0.12,0.02,0.10,0.15,0.22,0.18,0.28,0.30,0.35,0.25,0.10, 0.20,0.28,0.35,0.38,0.42,0.40,0.48,0.50,0.46,0.52,0.55, 0.52,0.58,0.60,0.58,0.65,0.66,0.62,0.70,0.72,0.70,0.76, 0.78,0.80,0.82,0.80,0.85,0.88,0.86,0.92,0.90,0.95,0.98];
const sim59 = [-0.25,-0.15,-0.32,-0.20,-0.38,-0.28,-0.25,-0.35,-0.18,-0.22,-0.28, -0.12,-0.20,-0.15,-0.08,-0.18,-0.10,-0.05,-0.10,-0.02,0.02,-0.05, 0.00,-0.12,-0.05,-0.02,0.05,0.10,0.08,0.12,0.18,0.10,-0.08, 0.02,0.12,0.18,0.20,0.25,0.22,0.28,0.32,0.30,0.35,0.33, 0.38,0.36,0.42,0.40,0.45,0.44,0.48,0.50,0.52,0.50,0.56, 0.60,0.58,0.62,0.64,0.62,0.68,0.66,0.70,0.72,0.75,0.78];
const sim60 = [-0.08,-0.15,-0.02,-0.12,-0.25,-0.18,-0.12,-0.05,-0.15,-0.08,-0.12, -0.02,-0.10,0.00,-0.05,0.05,-0.02,0.08,0.05,0.02,0.12,0.15, 0.05,0.00,0.05,0.10,0.18,0.15,0.22,0.28,0.25,0.20,0.05, 0.15,0.20,0.28,0.32,0.30,0.38,0.42,0.40,0.44,0.46,0.42, 0.50,0.48,0.52,0.55,0.58,0.56,0.60,0.62,0.66,0.64,0.68, 0.70,0.74,0.72,0.76,0.78,0.80,0.78,0.84,0.86,0.88,0.92];

const simulations = [
  sim01, sim02, sim03, sim04, sim05, sim06, sim07, sim08, sim09, sim10,
  sim11, sim12, sim13, sim14, sim15, sim16, sim17, sim18, sim19, sim20,
  sim21, sim22, sim23, sim24, sim25, sim26, sim27, sim28, sim29, sim30,
  sim31, sim32, sim33, sim34, sim35, sim36, sim37, sim38, sim39, sim40,
  sim41, sim42, sim43, sim44, sim45, sim46, sim47, sim48, sim49, sim50,
  sim51, sim52, sim53, sim54, sim55, sim56, sim57, sim58, sim59, sim60,
];

const yTickValues = [-1.0, -0.5, 0.0, 0.5, 1.0, 1.5];
const xTickValues = [1960, 1970, 1980, 1990, 2000, 2010, 2020];

const legendItems = [
  { label: "観測された気温の推移", color: "#333333", width: 6 },
  { label: "IPCCで予測された気温の推移", color: "#ff2200", width: 6 },
  { label: "各シミュレーションで予測された気温の推移", color: "#62b42a", width: 3 },
];

const W = 1512;
const H = 1072;
const plot = { left: 157, right: 1487, top: 12, bottom: 1005 };

const GREEN = "#62b42a";
const RED = "#ff2200";
const DARK = "#333333";
const TEXT = "#2e2e2e";
const NUM_FONT = "'DejaVu Sans', 'Noto Sans CJK JP', sans-serif";
const JP_FONT = "'Noto Sans CJK JP', 'Noto Sans', sans-serif";

export default function App() {
  const x = d3.scaleLinear().domain([firstYear, lastYear]).range([plot.left, plot.right]);
  const y = d3.scaleLinear().domain([-1.0, 1.5]).range([plot.bottom, plot.top]);

  const line = d3
    .line<number>()
    .x((_, i) => x(firstYear + i))
    .y((v) => y(v));

  const minorX = d3.range(firstYear, lastYear + 1);
  const minorY = d3.range(-10, 16).map((k) => k / 10);

  // Keep the outermost value labels inside the frame
  const yLabelPos = (v: number) => {
    const p = y(v);
    if (v === 1.5) return p + 14;
    if (v === -1.0) return p - 14;
    return p;
  };

  return (
    <svg
      width={W}
      height={H}
      viewBox={`0 0 ${W} ${H}`}
      style={{ position: "absolute", left: 0, top: 0, display: "block" }}
    >
      <rect x={0} y={0} width={W} height={H} fill="#e4f3e0" />
      <rect
        x={plot.left}
        y={plot.top}
        width={plot.right - plot.left}
        height={plot.bottom - plot.top}
        fill="#ffffff"
      />

      {/* ticks on all four sides */}
      <g stroke="#000" strokeWidth={3.5}>
        {minorX.map((yr) => {
          const major = yr % 10 === 0;
          const len = major ? 20 : 10;
          return (
            <g key={`xt${yr}`}>
              <line x1={x(yr)} x2={x(yr)} y1={plot.bottom} y2={plot.bottom - len} />
              <line x1={x(yr)} x2={x(yr)} y1={plot.top} y2={plot.top + len} />
            </g>
          );
        })}
        {minorY.map((v) => {
          const major = Math.abs(Math.round(v * 10) % 5) === 0;
          const len = major ? 26 : 13;
          return (
            <g key={`yt${v}`}>
              <line x1={plot.left} x2={plot.left + len} y1={y(v)} y2={y(v)} />
              <line x1={plot.right} x2={plot.right - len} y1={y(v)} y2={y(v)} />
            </g>
          );
        })}
      </g>
      <rect
        x={plot.left}
        y={plot.top}
        width={plot.right - plot.left}
        height={plot.bottom - plot.top}
        fill="none"
        stroke="#000"
        strokeWidth={4}
      />

      {/* simulation runs */}
      <g fill="none" stroke={GREEN} strokeWidth={3.2} strokeLinejoin="round">
        {simulations.map((s, i) => (
          <path key={`sim${i}`} d={line(s) ?? ""} />
        ))}
      </g>

      {/* IPCC mean */}
      <path d={line(ipccMean) ?? ""} fill="none" stroke={RED} strokeWidth={6.5} strokeLinejoin="round" />

      {/* observations */}
      <path d={line(observed) ?? ""} fill="none" stroke={DARK} strokeWidth={6.5} strokeLinejoin="miter" />

      {/* y tick labels */}
      <g fontFamily={NUM_FONT} fontSize={44} fill={TEXT} textAnchor="end">
        {yTickValues.map((v) => (
          <text key={`yl${v}`} x={137} y={yLabelPos(v)} dominantBaseline="central">
            {v.toFixed(1)}
          </text>
        ))}
      </g>

      {/* x tick labels */}
      <g fontFamily={NUM_FONT} fontSize={44} fill={TEXT} textAnchor="middle">
        {xTickValues.map((v) => (
          <text key={`xl${v}`} x={x(v) + 3} y={1063} letterSpacing={1}>
            {v}
          </text>
        ))}
      </g>
      <text x={1476} y={1062} fontFamily={JP_FONT} fontSize={36} fill={TEXT} textAnchor="middle">
        年
      </text>

      {/* y axis title, set vertically */}
      <text
        x={35}
        y={26}
        fontFamily={JP_FONT}
        fontSize={38}
        fontWeight={700}
        fill={TEXT}
        style={{ writingMode: "vertical-rl" }}
      >
        気温変化（℃）
      </text>

      {/* legend */}
      <g>
        {legendItems.map((item, i) => {
          const ly = 76 + i * 56.5;
          return (
            <g key={`lg${i}`}>
              <line x1={227} x2={348} y1={ly} y2={ly} stroke={item.color} strokeWidth={item.width} />
              <text
                x={363}
                y={ly + 6}
                fontFamily={JP_FONT}
                fontSize={33}
                fill={TEXT}
                dominantBaseline="central"
              >
                {item.label}
              </text>
            </g>
          );
        })}
      </g>
    </svg>
  );
}
